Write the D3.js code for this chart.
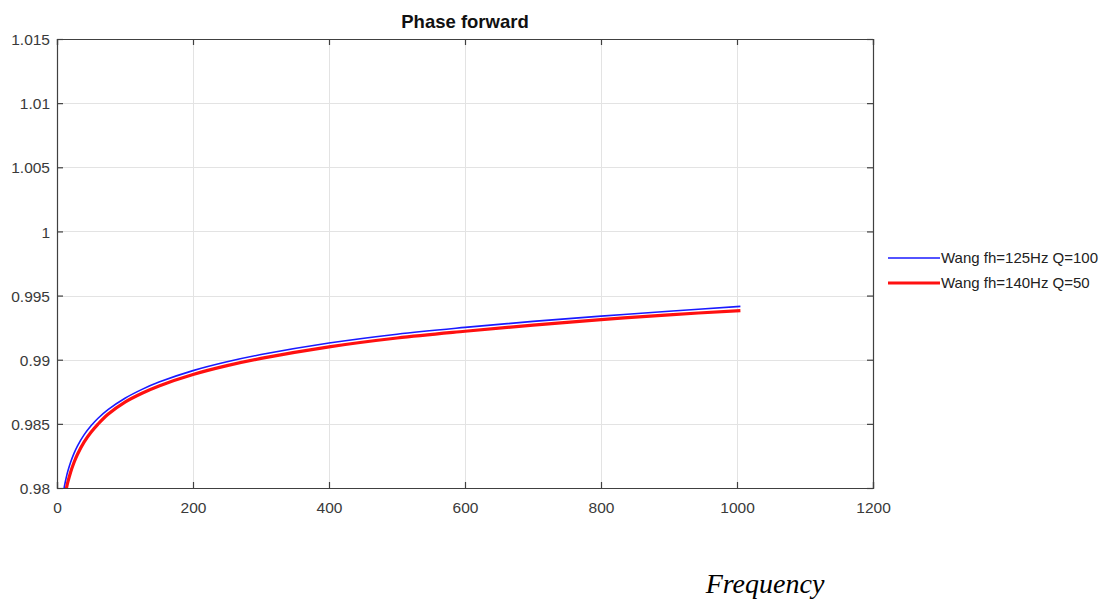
<!DOCTYPE html>
<html>
<head>
<meta charset="utf-8">
<script src="https://cdn.jsdelivr.net/npm/d3@7"></script>
<style>
  body { margin: 0; background: #fff; }
  svg { display: block; }
</style>
</head>
<body>
<div id="chart"></div>
<script>
const freq = [10, 11, 12, 14, 16, 20, 25, 30, 40, 50, 60, 75, 100, 125, 150, 200, 250, 300, 400, 500, 600, 700, 800, 900, 1005];
const wang125 = [0.97986, 0.98016, 0.98043, 0.98091, 0.98132, 0.98201, 0.98270, 0.98327, 0.98416, 0.98485, 0.98542, 0.98611, 0.98700, 0.98769, 0.98826, 0.98915, 0.98984, 0.99040, 0.99130, 0.99199, 0.99252, 0.99299, 0.99340, 0.99378, 0.99416];
const wang140 = [0.97887, 0.97920, 0.97949, 0.98002, 0.98047, 0.98123, 0.98199, 0.98261, 0.98359, 0.98434, 0.98496, 0.98575, 0.98670, 0.98739, 0.98796, 0.98885, 0.98954, 0.99010, 0.99100, 0.99169, 0.99222, 0.99270, 0.99313, 0.99350, 0.99383];
const seriesNames = ['Wang fh=125Hz Q=100', 'Wang fh=140Hz Q=50'];
const xTicks = [0, 200, 400, 600, 800, 1000, 1200];
const yTicks = [0.98, 0.985, 0.99, 0.995, 1, 1.005, 1.01, 1.015];

const width = 1105, height = 599;
const plot = { left: 57, right: 873, top: 39, bottom: 488 };

const svg = d3.select('#chart').append('svg')
    .attr('width', width)
    .attr('height', height)
    .style('font-family', '"Liberation Sans", Arial, sans-serif');

const x = d3.scaleLinear().domain([0, 1200]).range([plot.left, plot.right]);
const y = d3.scaleLinear().domain([0.98, 1.015]).range([plot.bottom, plot.top]);

svg.append('defs').append('clipPath').attr('id', 'clip')
    .append('rect')
    .attr('x', plot.left).attr('y', plot.top)
    .attr('width', plot.right - plot.left).attr('height', plot.bottom - plot.top);

// grid
const grid = svg.append('g').attr('stroke', '#e3e3e3').attr('stroke-width', 1);
grid.selectAll('.gx').data(xTicks.slice(1, -1)).enter().append('line')
    .attr('x1', d => Math.round(x(d)) + 0.5).attr('x2', d => Math.round(x(d)) + 0.5)
    .attr('y1', plot.top).attr('y2', plot.bottom);
grid.selectAll('.gy').data(yTicks.slice(1, -1)).enter().append('line')
    .attr('y1', d => Math.round(y(d)) + 0.5).attr('y2', d => Math.round(y(d)) + 0.5)
    .attr('x1', plot.left).attr('x2', plot.right);

// axes (ticks inward, on all four sides)
const axisColor = '#404040';
const tickLen = 6;
const bottomAxis = svg.append('g').attr('transform', `translate(0,${plot.bottom})`)
    .call(d3.axisBottom(x).tickValues(xTicks).tickSize(-tickLen).tickPadding(14).tickFormat(d3.format('d')));
const topAxis = svg.append('g').attr('transform', `translate(0,${plot.top})`)
    .call(d3.axisTop(x).tickValues(xTicks).tickSize(-tickLen).tickFormat(''));
const leftAxis = svg.append('g').attr('transform', `translate(${plot.left},0)`)
    .call(d3.axisLeft(y).tickValues(yTicks).tickSize(-tickLen).tickPadding(7).tickFormat(d => d3.format('')(+d.toFixed(3))));
const rightAxis = svg.append('g').attr('transform', `translate(${plot.right},0)`)
    .call(d3.axisRight(y).tickValues(yTicks).tickSize(-tickLen).tickFormat(''));

[bottomAxis, topAxis, leftAxis, rightAxis].forEach(a => {
    a.select('.domain').attr('stroke', axisColor).attr('stroke-width', 1.2);
    a.selectAll('.tick line').attr('stroke', axisColor).attr('stroke-width', 1.2);
    a.selectAll('.tick text').attr('fill', '#3a3a3a').style('font-size', '15.5px')
        .style('font-family', '"Liberation Sans", Arial, sans-serif');
});
leftAxis.selectAll('.tick text').attr('dy', '0.36em');

// lines
const line = d3.line().x(d => x(d[0])).y(d => y(d[1])).curve(d3.curveCatmullRom.alpha(0.5));
const series = [
    { name: seriesNames[0], values: wang125, color: '#1a1aff', w: 1.6 },
    { name: seriesNames[1], values: wang140, color: '#ff1010', w: 3.2 }
];
const lines = svg.append('g').attr('clip-path', 'url(#clip)');
series.forEach(s => {
    lines.append('path')
        .datum(freq.map((f, i) => [f, s.values[i]]))
        .attr('d', line)
        .attr('fill', 'none')
        .attr('stroke', s.color)
        .attr('stroke-width', s.w);
});

// title
svg.append('text')
    .attr('x', (plot.left + plot.right) / 2)
    .attr('y', 28)
    .attr('text-anchor', 'middle')
    .style('font-size', '18.5px')
    .style('font-weight', 'bold')
    .attr('fill', '#111')
    .text('Phase forward');

// legend
const legend = svg.append('g').attr('transform', 'translate(888,258)');
series.forEach((s, i) => {
    const g = legend.append('g').attr('transform', `translate(0,${i * 25})`);
    g.append('line').attr('x1', 0).attr('x2', 52).attr('y1', 0).attr('y2', 0)
        .attr('stroke', s.color).attr('stroke-width', s.w);
    g.append('text').attr('x', 53).attr('y', 0).attr('dy', '0.36em')
        .style('font-size', '15px').attr('fill', '#222').text(s.name);
});

// axis label
svg.append('text')
    .attr('x', 765)
    .attr('y', 593)
    .attr('text-anchor', 'middle')
    .style('font-family', '"Liberation Serif", "Times New Roman", serif')
    .style('font-style', 'italic')
    .style('font-size', '28px')
    .attr('fill', '#000')
    .text('Frequency');
</script>
</body>
</html>
